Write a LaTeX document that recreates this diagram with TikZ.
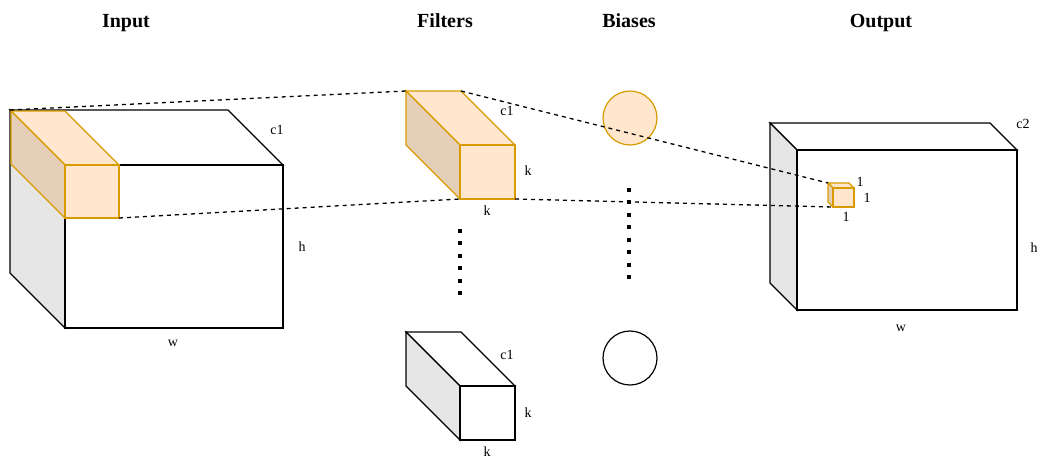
\documentclass[tikz,border=0pt]{standalone}
\usepackage{fontspec}
\setmainfont{Liberation Serif}
\definecolor{peach}{HTML}{FFE6CC}
\definecolor{peachdark}{HTML}{E6CFB8}
\definecolor{amber}{HTML}{D79B00}
\definecolor{sidegrey}{HTML}{E6E6E6}

% cuboid: name, front top-left x, y, front bottom-right x, y, depth, style prefix
\newcommand\cuboid[7]{%
  \coordinate (#1-ftl) at (#2,#3);
  \coordinate (#1-ftr) at (#4,#3);
  \coordinate (#1-fbr) at (#4,#5);
  \coordinate (#1-fbl) at (#2,#5);
  \coordinate (#1-btl) at (#2-#6,#3-#6);
  \coordinate (#1-btr) at (#4-#6,#3-#6);
  \coordinate (#1-bbl) at (#2-#6,#5-#6);
  \path[#7face] (#1-btl) -- (#1-btr) -- (#1-ftr) -- (#1-ftl) -- cycle;
  \path[#7side] (#1-btl) -- (#1-ftl) -- (#1-fbl) -- (#1-bbl) -- cycle;
  \path[#7face] (#1-ftl) rectangle (#1-fbr);
}

\begin{document}
\begin{tikzpicture}[x=1pt,y=-1pt,
  plainface/.style={draw=black, fill=white, line width=1.2pt, line join=miter},
  plainside/.style={draw=black, fill=sidegrey, line width=1.2pt, line join=miter},
  peachface/.style={draw=amber, fill=peach, line width=1.2pt, line join=miter},
  peachside/.style={draw=amber, fill=peachdark, line width=1.2pt, line join=miter},
  heading/.style={font=\fontsize{20}{24}\selectfont\bfseries, inner sep=0pt, anchor=base},
  dimlabel/.style={font=\fontsize{14}{16}\selectfont, inner sep=0pt},
  connector/.style={draw=black, line width=1.3pt, dash pattern=on 4pt off 4pt},
  dotcolumn/.style={draw=black, line width=4pt, dash pattern=on 4pt off 8.43pt},
  biasplain/.style={circle, draw=black, fill=white, line width=1.2pt, minimum size=54pt, inner sep=0pt},
  biaspeach/.style={circle, draw=amber, fill=peach, line width=1.2pt, minimum size=54pt, inner sep=0pt}]
\useasboundingbox (0,0) rectangle (1039,459);

% column headings
\node[heading] (hInput) at (126,27) {Input};
\node[heading] (hFilters) at (445,27) {Filters};
\node[heading] (hBiases) at (629,27) {Biases};
\node[heading] (hOutput) at (881,27) {Output};

% input volume with the selected receptive field
\cuboid{input}{65}{165}{283}{328}{55}{plain}
\cuboid{inputsel}{65}{165}{119}{218}{54}{peach}
\node[dimlabel] (inC) at (277,130) {c1};
\node[dimlabel] (inH) at (302,247) {h};
\node[dimlabel] (inW) at (173,343) {w};

% filters
\cuboid{filterA}{460}{145}{515}{199}{54}{peach}
\node[dimlabel] (fAc) at (507,111) {c1};
\node[dimlabel] (fAk1) at (528,171) {k};
\node[dimlabel] (fAk2) at (487,211) {k};

\cuboid{filterB}{460}{386}{515}{440}{54}{plain}
\node[dimlabel] (fBc) at (507,355) {c1};
\node[dimlabel] (fBk1) at (528,413) {k};
\node[dimlabel] (fBk2) at (487,452) {k};

\coordinate (fdTop) at (460,229);
\coordinate (fdBot) at (460,296);
\draw[dotcolumn] (fdTop) -- (fdBot);

% biases
\node[biaspeach] (biasA) at (630,118) {};
\node[biasplain] (biasB) at (630,358) {};
\coordinate (bdTop) at (629,188);
\coordinate (bdBot) at (629,280);
\draw[dotcolumn] (bdTop) -- (bdBot);

% output volume with a single output cell
\cuboid{output}{797}{150}{1017}{310}{27}{plain}
\node[dimlabel] (outC) at (1023,124) {c2};
\node[dimlabel] (outH) at (1034,248) {h};
\node[dimlabel] (outW) at (901,328) {w};

\cuboid{unit}{833}{188}{854}{207}{5}{peach}
\node[dimlabel] (u1) at (860,182) {1};
\node[dimlabel] (u2) at (867,198) {1};
\node[dimlabel] (u3) at (846,217) {1};

% projection lines
\draw[connector] (input-btl) -- (filterA-btl);
\draw[connector] (inputsel-fbr) -- (filterA-fbl);
\draw[connector] (filterA-btr) -- (unit-btl);
\draw[connector] (filterA-fbr) -- (unit-fbl);
\end{tikzpicture}
\end{document}
